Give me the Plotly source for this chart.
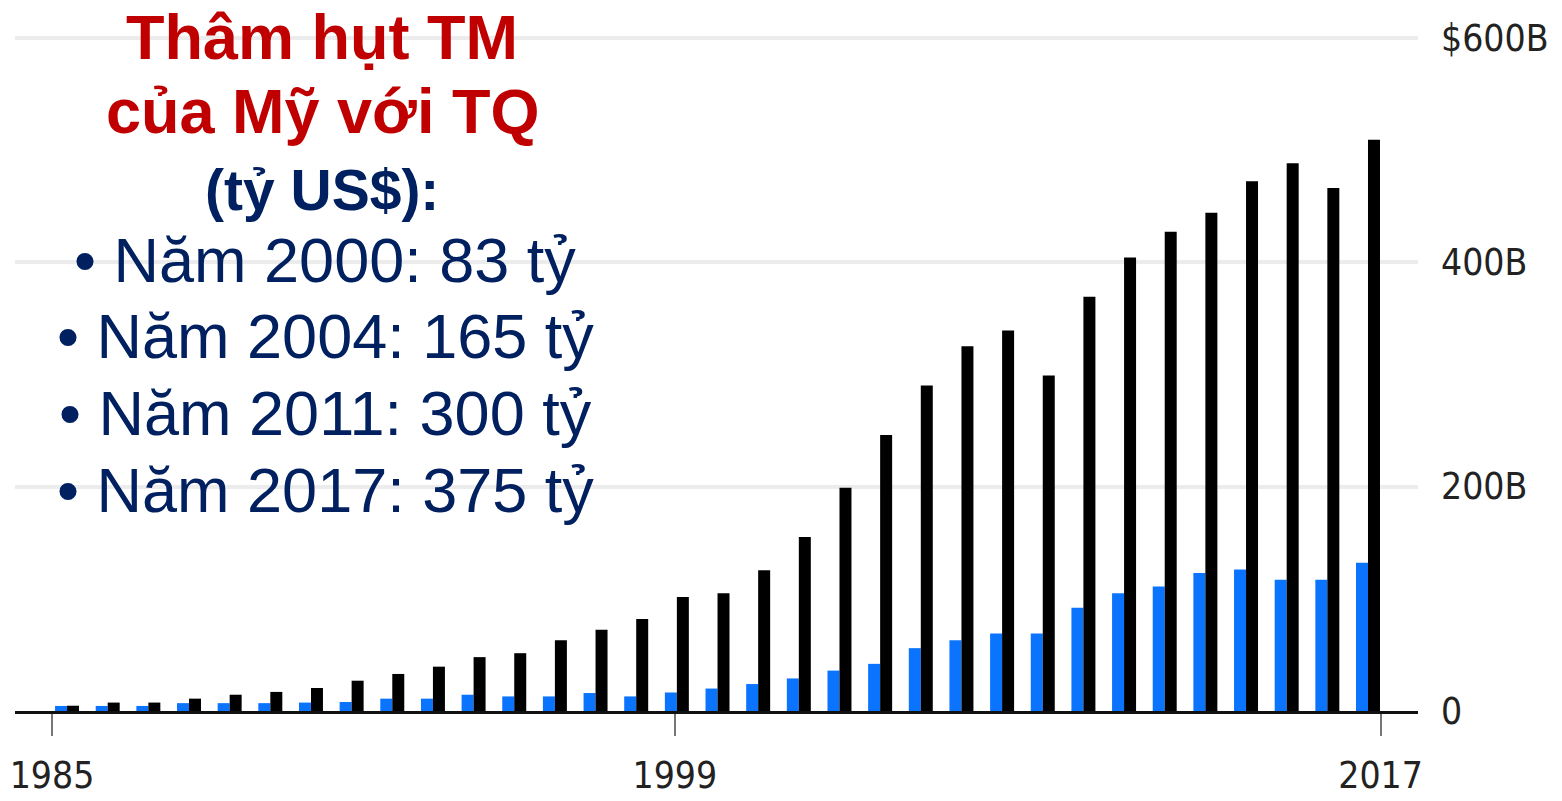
import plotly.graph_objects as go

years = list(range(1985, 2018))
# US exports to China (blue) and imports from China (black), billions USD
exports = [4.5, 4.5, 4.5, 7, 7, 7, 7.5, 8, 11, 11, 14.5, 13, 13, 16, 13, 16.5, 20, 24, 29, 36,
           42, 56, 63, 69, 69, 92, 105, 111, 123, 126, 117, 117, 132]
imports = [4.7, 7.5, 7.5, 11, 14.5, 17, 20.5, 27, 33, 39.5, 48, 51.5, 63, 72.5, 82, 101.5, 105,
           125.5, 155, 199, 246, 290, 325, 339, 299, 369, 404, 427, 444, 472, 488, 466, 509]

x_tick_labels = ["1985", "1999", "2017"]
x_tick_pos = [1984.63, 1999.95, 2017.31]
y_tick_vals = [0, 200, 400, 600]
y_tick_labels = ["0", "200B", "400B", "$600B"]

title_lines = ["Thâm hụt TM", "của Mỹ với TQ", "(tỷ US$):"]
bullet_lines = ["• Năm 2000: 83 tỷ", "• Năm 2004: 165 tỷ", "• Năm 2011: 300 tỷ", "• Năm 2017: 375 tỷ"]

W, H = 1562, 801
ML, MR, MT, MB = 15, 144, 32, 90
plot_h = H - MT - MB

def py2paper(py):
    return (H - MB - py) / plot_h

narrow = "Liberation Sans Narrow, Arial Narrow, DejaVu Sans Condensed, sans-serif"
sans = "Liberation Sans, Arial, sans-serif"

fig = go.Figure()
fig.add_trace(go.Bar(x=years, y=exports, marker=dict(color="#0a74ff", line=dict(width=0)), name="Exports"))
fig.add_trace(go.Bar(x=years, y=imports, marker=dict(color="#000000", line=dict(width=0)), name="Imports"))

ann = []
title_y = [37, 111, 190]
title_sizes = [63, 63, 57]
title_cols = ["#c00000", "#c00000", "#002060"]
for t, yy, s, c in zip(title_lines, title_y, title_sizes, title_cols):
    ann.append(dict(text="<b>%s</b>" % t, x=0.219, y=py2paper(yy), xref="paper", yref="paper",
                    xanchor="center", yanchor="middle", showarrow=False,
                    font=dict(family=sans, size=s, color=c)))
bullet_y = [260, 336, 413, 490]
for t, yy in zip(bullet_lines, bullet_y):
    ann.append(dict(text=t, x=0.221, y=py2paper(yy), xref="paper", yref="paper",
                    xanchor="center", yanchor="middle", showarrow=False,
                    font=dict(family=sans, size=63, color="#002060")))

fig.update_layout(
    width=W, height=H,
    margin=dict(l=ML, r=MR, t=MT, b=MB, autoexpand=False),
    paper_bgcolor="white", plot_bgcolor="white",
    barmode="group", bargap=0.41, bargroupgap=0,
    showlegend=False,
    annotations=ann,
    xaxis=dict(range=[1983.72, 2018.23], tickmode="array", tickvals=x_tick_pos, ticktext=x_tick_labels,
               showgrid=False, zeroline=False, showline=True, linecolor="#111", linewidth=3,
               ticks="outside", ticklen=22, tickwidth=2, tickcolor="#777", automargin=False,
               tickfont=dict(family=narrow, size=37, color="#222"), ticklabelstandoff=8),
    yaxis=dict(range=[0, 605], side="right", tickmode="array", tickvals=y_tick_vals, ticktext=y_tick_labels,
               showgrid=True, gridcolor="#ececec", gridwidth=4, zeroline=False, showline=False,
               automargin=False,
               ticks="", tickfont=dict(family=narrow, size=37, color="#222"), ticklabelstandoff=22),
)

fig.write_html("out.html", config={"displayModeBar": False},
               post_script="document.body.style.margin='0';document.body.style.overflow='hidden';")
